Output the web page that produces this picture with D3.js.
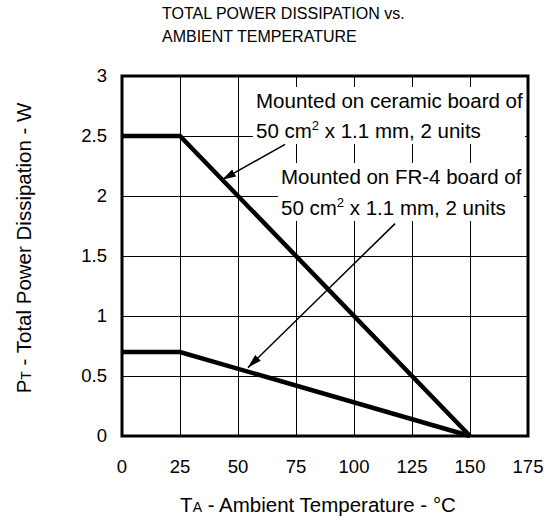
<html>
  <style type="text/css">
    body { margin: 0; background: #fff; }
    text { font-family: Arial, "Liberation Sans", sans-serif; fill: #000; }
  </style>
  <body>
    <script src="https://cdnjs.cloudflare.com/ajax/libs/d3/7.8.5/d3.min.js"></script>
    <script type="text/javascript">
      // chart values
      const temps = [0, 25, 150];
      const ceramic = [2.5, 2.5, 0];
      const fr4 = [0.7, 0.7, 0];
      const xTicks = [0, 25, 50, 75, 100, 125, 150, 175];
      const yTicks = [0, 0.5, 1, 1.5, 2, 2.5, 3];
      // arrows: [tailT, tailP, tipT, tipP]
      const ceramicArrow = [70.3, 2.43, 43.1, 2.135];
      const fr4Arrow = [117.7, 1.77, 54.3, 0.57];

      const W = 555, H = 525;
      const svg = d3.select("body").append("svg").attr("width", W).attr("height", H);

      const x = d3.scaleLinear().domain([0, 175]).range([122, 528]);
      const y = d3.scaleLinear().domain([0, 3]).range([436, 76]);

      // title
      const title = svg.append("text").attr("x", 162).attr("font-size", 16);
      title.append("tspan").attr("x", 162).attr("y", 19).text("TOTAL POWER DISSIPATION vs.");
      title.append("tspan").attr("x", 162).attr("y", 42).text("AMBIENT TEMPERATURE");

      // grid
      const grid = svg.append("g");
      grid.selectAll("line.v").data(xTicks.slice(1, -1)).enter().append("line")
        .attr("x1", d => x(d)).attr("x2", d => x(d))
        .attr("y1", y(3)).attr("y2", y(0))
        .attr("stroke", "#000").attr("stroke-width", 1).attr("shape-rendering", "crispEdges");
      grid.selectAll("line.h").data(yTicks.slice(1, -1)).enter().append("line")
        .attr("x1", x(0)).attr("x2", x(175))
        .attr("y1", d => y(d)).attr("y2", d => y(d))
        .attr("stroke", "#000").attr("stroke-width", 1).attr("shape-rendering", "crispEdges");

      // annotation blocks (white boxes over the grid)
      function note(lines, x0, ys) {
        const g = svg.append("g");
        const rect = g.append("rect").attr("fill", "#fff");
        lines.forEach((ln, i) => {
          const t = g.append("text").attr("x", x0).attr("y", ys[i]).attr("font-size", 20.5);
          if (typeof ln === "object") {
            t.append("tspan").text(ln.a);
            t.append("tspan").attr("dy", -8).attr("font-size", 13).text("2");
            t.append("tspan").attr("dy", 8).text(ln.b);
          } else {
            t.text(ln);
          }
        });
        const bb = g.node().getBBox();
        rect.attr("x", bb.x - 3).attr("y", bb.y - 2).attr("width", bb.width + 5).attr("height", bb.height + 4);
      }
      note(["Mounted on ceramic board of", { a: "50 cm", b: " x 1.1 mm, 2 units" }], 256, [108, 138]);
      note(["Mounted on FR-4 board of", { a: "50 cm", b: " x 1.1 mm, 2 units" }], 281, [184, 215]);

      // frame
      svg.append("rect")
        .attr("x", x(0)).attr("y", y(3))
        .attr("width", x(175) - x(0)).attr("height", y(0) - y(3))
        .attr("fill", "none").attr("stroke", "#000").attr("stroke-width", 3);

      // data lines
      const line = d3.line().x(d => x(d[0])).y(d => y(d[1]));
      [ceramic, fr4].forEach(s => {
        svg.append("path")
          .datum(temps.map((t, i) => [t, s[i]]))
          .attr("d", line)
          .attr("fill", "none").attr("stroke", "#000").attr("stroke-width", 4.5)
          .attr("stroke-linejoin", "miter");
      });

      // arrows
      svg.append("defs").append("marker")
        .attr("id", "ah").attr("viewBox", "0 0 14 8")
        .attr("refX", 14).attr("refY", 4)
        .attr("markerWidth", 14).attr("markerHeight", 8)
        .attr("markerUnits", "userSpaceOnUse").attr("orient", "auto")
        .append("path").attr("d", "M0,0 L14,4 L0,8 Z").attr("fill", "#000");
      [ceramicArrow, fr4Arrow].forEach(a => {
        svg.append("line")
          .attr("x1", x(a[0])).attr("y1", y(a[1]))
          .attr("x2", x(a[2])).attr("y2", y(a[3]))
          .attr("stroke", "#000").attr("stroke-width", 1.5)
          .attr("marker-end", "url(#ah)");
      });

      // tick labels
      svg.selectAll("text.xt").data(xTicks).enter().append("text")
        .attr("x", d => x(d)).attr("y", 473)
        .attr("text-anchor", "middle").attr("font-size", 18.5)
        .text(d => d);
      svg.selectAll("text.yt").data(yTicks).enter().append("text")
        .attr("x", 107).attr("y", d => y(d))
        .attr("dy", "0.35em")
        .attr("text-anchor", "end").attr("font-size", 18.5)
        .text(d => d);

      // axis titles
      const xl = svg.append("text").attr("x", 318).attr("y", 512)
        .attr("text-anchor", "middle").attr("font-size", 20.5);
      xl.append("tspan").text("T");
      xl.append("tspan").attr("font-size", 14).text("A");
      xl.append("tspan").text(" - Ambient Temperature - °C");

      const yl = svg.append("text")
        .attr("transform", "translate(31,248) rotate(-90)")
        .attr("text-anchor", "middle").attr("font-size", 20.5);
      yl.append("tspan").text("P");
      yl.append("tspan").attr("font-size", 14).text("T");
      yl.append("tspan").text(" - Total Power Dissipation - W");
    </script>
  </body>
</html>
